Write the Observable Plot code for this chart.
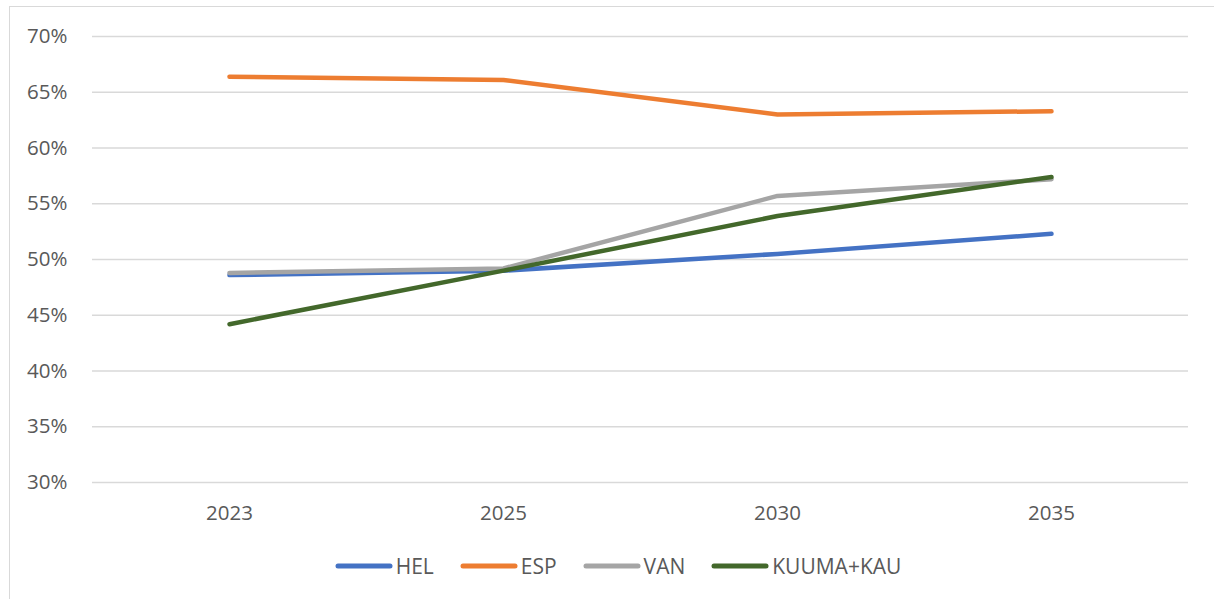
<!DOCTYPE html>
<html>
<head>
<meta charset="utf-8">
<script src="https://cdn.jsdelivr.net/npm/d3@7"></script>
<script src="https://cdn.jsdelivr.net/npm/@observablehq/plot@0.6"></script>
<style>
  html, body { margin: 0; padding: 0; background: #fff; }
  body { width: 1214px; height: 599px; position: relative; overflow: hidden; font-family: "Open Sans", "Liberation Sans", sans-serif; }
  #frame { position: absolute; left: 9px; top: 6px; width: 1220px; height: 620px; border: 1px solid #d9d9d9; box-sizing: border-box; }
  #chart { position: absolute; left: 0; top: 0; }
  #legend { position: absolute; left: 22px; top: 551px; width: 1192px; height: 30px; display: flex; justify-content: center; align-items: center; font-size: 21px; color: #595959; line-height: 30px; }
  .item { display: flex; align-items: center; margin: 0 13px; }
  .item svg { margin-right: 3px; }
</style>
</head>
<body>
<div id="frame"></div>
<div id="chart"></div>
<div id="legend"></div>
<script>
const years = ["2023", "2025", "2030", "2035"];
const seriesNames = ["HEL", "ESP", "VAN", "KUUMA+KAU"];
const HEL = [0.486, 0.490, 0.505, 0.523];
const ESP = [0.664, 0.661, 0.630, 0.633];
const VAN = [0.488, 0.492, 0.557, 0.572];
const KUUMA_KAU = [0.442, 0.490, 0.539, 0.574];
const colors = ["#4472C4", "#ED7D31", "#A5A5A5", "#43682B"];
const yTicks = [0.30, 0.35, 0.40, 0.45, 0.50, 0.55, 0.60, 0.65, 0.70];

const seriesValues = [HEL, ESP, VAN, KUUMA_KAU];
const data = [];
seriesNames.forEach((s, i) => {
  years.forEach((y, j) => data.push({series: s, year: y, value: seriesValues[i][j]}));
});

const fmt = d => Math.round(d * 100) + "%";

const chart = Plot.plot({
  width: 1214,
  height: 540,
  marginLeft: 92,
  marginRight: 26,
  marginTop: 36,
  marginBottom: 58,
  style: {fontFamily: "'Open Sans', 'Liberation Sans', sans-serif", fontSize: "20.5px", color: "#595959", background: "transparent"},
  x: {type: "point", domain: years, padding: 0.5, label: null},
  y: {domain: [0.30, 0.70], label: null},
  color: {domain: seriesNames, range: colors},
  marks: [
    Plot.gridY(yTicks, {stroke: "#d9d9d9", strokeOpacity: 1, strokeWidth: 1.3}),
    Plot.axisY(yTicks, {tickSize: 0, tickPadding: 25, tickFormat: fmt, fill: "#595959", fontSize: 20.5, label: null}),
    Plot.axisX({tickSize: 0, tickPadding: 23, fill: "#595959", fontSize: 20.5, label: null}),
    Plot.line(data, {x: "year", y: "value", z: "series", stroke: "series", strokeWidth: 4.5, strokeLinecap: "round", strokeLinejoin: "round"})
  ]
});
document.getElementById("chart").appendChild(chart);

const legend = document.getElementById("legend");
seriesNames.forEach((s, i) => {
  const item = document.createElement("div");
  item.className = "item";
  item.innerHTML = `<svg width="58" height="10"><line x1="3" y1="5" x2="55" y2="5" stroke="${colors[i]}" stroke-width="5" stroke-linecap="round"/></svg><span>${s}</span>`;
  legend.appendChild(item);
});
</script>
</body>
</html>
